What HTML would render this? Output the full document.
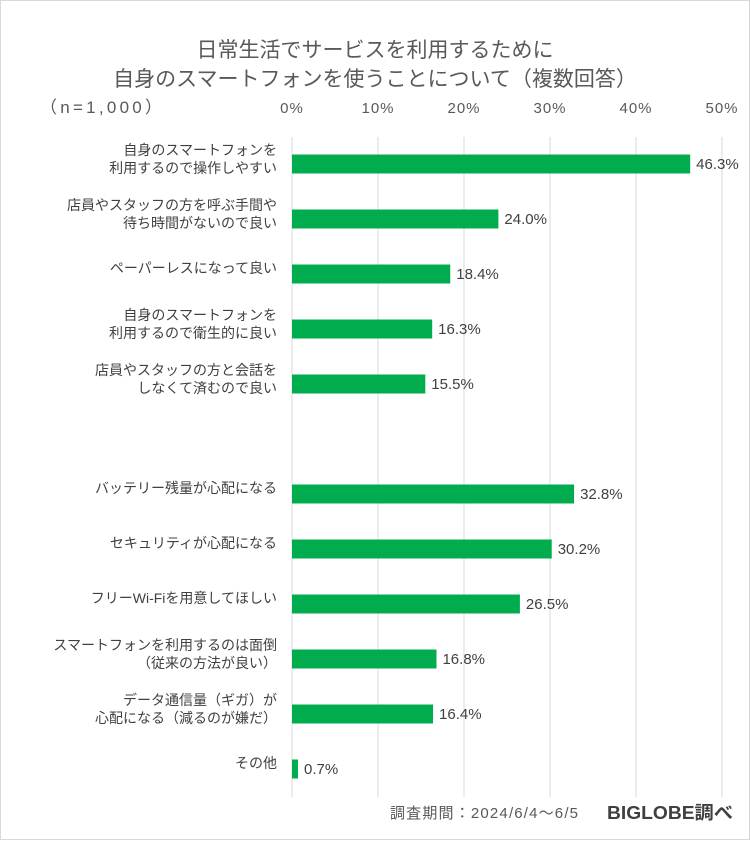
<!DOCTYPE html>
<html><head><meta charset="utf-8"><style>
body{margin:0;background:#fff;}
svg text{font-family:"Liberation Sans","Noto Sans CJK JP",sans-serif;}
</style></head><body>
<svg width="750" height="840" xmlns="http://www.w3.org/2000/svg">
<rect x="0.5" y="0.5" width="749" height="839" fill="#fff" stroke="#d9d9d9"/>
<text x="375" y="57" text-anchor="middle" font-size="21" fill="#595959">日常生活でサービスを利用するために</text>
<text x="375" y="86" text-anchor="middle" font-size="21" fill="#595959">自身のスマートフォンを使うことについて（複数回答）</text>
<text x="40" y="113" font-size="17" fill="#595959" textLength="122" lengthAdjust="spacing">（n=1,000）</text>
<g id="grid"></g>
<g id="bars"></g>
<text x="390" y="818" font-size="15" fill="#595959" textLength="188" lengthAdjust="spacing">調査期間：2024/6/4～6/5</text>
<text x="607" y="819" font-size="18" font-weight="bold" fill="#404040" textLength="126" lengthAdjust="spacingAndGlyphs">BIGLOBE調べ</text>
</svg>
<script>
const categories=[["自身のスマートフォンを","利用するので操作しやすい"],["店員やスタッフの方を呼ぶ手間や","待ち時間がないので良い"],["ペーパーレスになって良い"],["自身のスマートフォンを","利用するので衛生的に良い"],["店員やスタッフの方と会話を","しなくて済むので良い"],["バッテリー残量が心配になる"],["セキュリティが心配になる"],["フリーWi-Fiを用意してほしい"],["スマートフォンを利用するのは面倒","（従来の方法が良い）"],["データ通信量（ギガ）が","心配になる（減るのが嫌だ）"],["その他"]];
const values=[46.3,24.0,18.4,16.3,15.5,32.8,30.2,26.5,16.8,16.4,0.7];
const slots=[0,1,2,3,4,6,7,8,9,10,11];
const ticks=[0,10,20,30,40,50];
const NS="http://www.w3.org/2000/svg";
const x=v=>292+v*8.6;
const y=s=>164+s*55;
function mk(t,a,p){const e=document.createElementNS(NS,t);for(const k in a)e.setAttribute(k,a[k]);p.appendChild(e);return e;}
const g=document.getElementById('grid'),b=document.getElementById('bars');
ticks.forEach(t=>{
 const l=mk('line',{x1:x(t),x2:x(t),y1:137,y2:797,stroke:'#d9d9d9','stroke-width':1},g);
 
 
 const tx=mk('text',{x:x(t),y:113,'text-anchor':'middle','font-size':15,'letter-spacing':1,fill:'#595959'},g);
 tx.textContent=t+'%';
 
 
});
values.forEach((v,i)=>{
 const cy=y(slots[i]);
 const r=mk('rect',{x:x(0),y:cy-9.5,width:x(v)-x(0),height:19,fill:'#00ac4e'},b);
 
 
 const vt=mk('text',{x:x(v)+6,y:cy+5,'font-size':15,fill:'#404040'},b);
 vt.textContent=v.toFixed(1)+'%';
 
 
 const lines=categories[i];
 lines.forEach((s,j)=>{
  const off=lines.length===1?-6:(j===0?-14:4);
  const ct=mk('text',{x:277,y:cy+off+5,'text-anchor':'end','font-size':14,fill:'#404040'},b);
  ct.textContent=s;
  
  
 });
});
</script>
</body></html>
